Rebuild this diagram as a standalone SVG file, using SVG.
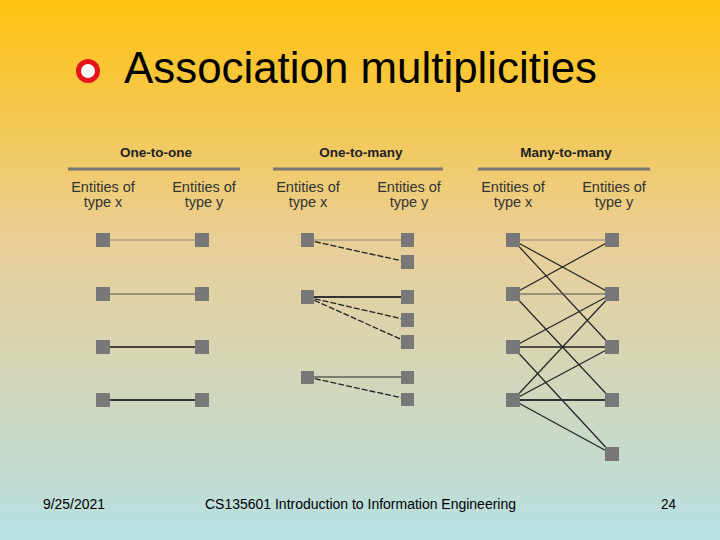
<svg xmlns="http://www.w3.org/2000/svg" width="720" height="540" viewBox="0 0 720 540">
<defs>
<linearGradient id="bg" x1="0" y1="0" x2="0" y2="1">
<stop offset="0" stop-color="#FFC20E"/>
<stop offset="0.45" stop-color="#E9CF98"/>
<stop offset="1" stop-color="#B8E0E2"/>
</linearGradient>
</defs>
<style>
.title{font-family:"Liberation Sans",Arial,sans-serif;font-size:44px;fill:#000}
.foot{font-family:"Liberation Sans",Arial,sans-serif;font-size:14px;fill:#000}
.head{font-family:"Liberation Sans",Arial,sans-serif;font-size:13.5px;font-weight:bold;fill:#222;text-anchor:middle}
.ent{font-family:"Liberation Sans",Arial,sans-serif;font-size:14.5px;fill:#333;text-anchor:middle}
.rule{stroke:#777;stroke-width:3}
.sq{fill:#787878}
.c{stroke:#222;stroke-width:1.2;fill:none}
.c0{stroke:#8a8a7a;stroke-width:1;fill:none}
.c2{stroke:#333;stroke-width:2;fill:none}
.d{stroke:#222;stroke-width:1.3;stroke-dasharray:6 2;fill:none}
</style>
<rect width="720" height="540" fill="url(#bg)"/>
<g id="title">
<circle cx="88" cy="71" r="9.5" fill="#fff" stroke="#E8141B" stroke-width="5"/>
<text class="title" x="124" y="83" textLength="473" lengthAdjust="spacingAndGlyphs">Association multiplicities</text>
</g>
<g id="headers">
<text class="head" x="156" y="157">One-to-one</text>
<line class="rule" x1="68" y1="169" x2="240" y2="169"/>
<text class="ent" x="103" y="192">Entities of</text>
<text class="ent" x="103" y="207">type x</text>
<text class="ent" x="204" y="192">Entities of</text>
<text class="ent" x="204" y="207">type y</text>
<text class="head" x="361" y="157">One-to-many</text>
<line class="rule" x1="273" y1="169" x2="443" y2="169"/>
<text class="ent" x="308" y="192">Entities of</text>
<text class="ent" x="308" y="207">type x</text>
<text class="ent" x="409" y="192">Entities of</text>
<text class="ent" x="409" y="207">type y</text>
<text class="head" x="566" y="157">Many-to-many</text>
<line class="rule" x1="478" y1="169" x2="650" y2="169"/>
<text class="ent" x="513" y="192">Entities of</text>
<text class="ent" x="513" y="207">type x</text>
<text class="ent" x="614" y="192">Entities of</text>
<text class="ent" x="614" y="207">type y</text>
</g>
<g id="connectors">
<line class="c0" x1="103" y1="240" x2="202" y2="240"/>
<line class="c" x1="103" y1="294" x2="202" y2="294" style="stroke:#555"/>
<line class="c" x1="103" y1="347" x2="202" y2="347" style="stroke:#111;stroke-width:1.6"/>
<line class="c2" x1="103" y1="400" x2="202" y2="400"/>
<line class="c0" x1="307" y1="240" x2="407" y2="240"/>
<line class="d" x1="307" y1="240" x2="407" y2="262"/>
<line class="c2" x1="307" y1="297" x2="407" y2="297"/>
<line class="d" x1="307" y1="297" x2="407" y2="320"/>
<line class="d" x1="307" y1="297" x2="407" y2="342"/>
<line class="c" x1="307" y1="377" x2="407" y2="377"/>
<line class="d" x1="307" y1="377" x2="407" y2="399"/>
<line class="c0" x1="513" y1="240" x2="612" y2="240"/>
<line class="c" x1="513" y1="240" x2="612" y2="294"/>
<line class="c" x1="513" y1="240" x2="612" y2="347"/>
<line class="c" x1="513" y1="294" x2="612" y2="240"/>
<line class="c" x1="513" y1="294" x2="612" y2="294" style="stroke:#555"/>
<line class="c" x1="513" y1="294" x2="612" y2="400"/>
<line class="c" x1="513" y1="347" x2="612" y2="294"/>
<line class="c" x1="513" y1="347" x2="612" y2="347" style="stroke-width:1.6"/>
<line class="c" x1="513" y1="347" x2="612" y2="454"/>
<line class="c" x1="513" y1="400" x2="612" y2="294"/>
<line class="c" x1="513" y1="400" x2="612" y2="347"/>
<line class="c2" x1="513" y1="400" x2="612" y2="400"/>
<line class="c" x1="513" y1="400" x2="612" y2="454"/>
</g>
<g id="one-to-one-x">
<rect class="sq" x="96" y="233" width="14" height="14"/>
<rect class="sq" x="96" y="287" width="14" height="14"/>
<rect class="sq" x="96" y="340" width="14" height="14"/>
<rect class="sq" x="96" y="393" width="14" height="14"/>
</g>
<g id="one-to-one-y">
<rect class="sq" x="195" y="233" width="14" height="14"/>
<rect class="sq" x="195" y="287" width="14" height="14"/>
<rect class="sq" x="195" y="340" width="14" height="14"/>
<rect class="sq" x="195" y="393" width="14" height="14"/>
</g>
<g id="one-to-many-x">
<rect class="sq" x="301" y="233" width="13" height="14"/>
<rect class="sq" x="301" y="290" width="13" height="14"/>
<rect class="sq" x="301" y="371" width="13" height="13"/>
</g>
<g id="one-to-many-y">
<rect class="sq" x="401" y="233" width="13" height="14"/>
<rect class="sq" x="401" y="255" width="13" height="14"/>
<rect class="sq" x="401" y="290" width="13" height="14"/>
<rect class="sq" x="401" y="313" width="13" height="14"/>
<rect class="sq" x="401" y="335" width="13" height="14"/>
<rect class="sq" x="401" y="371" width="13" height="13"/>
<rect class="sq" x="401" y="393" width="13" height="13"/>
</g>
<g id="many-to-many-x">
<rect class="sq" x="506" y="233" width="14" height="14"/>
<rect class="sq" x="506" y="287" width="14" height="14"/>
<rect class="sq" x="506" y="340" width="14" height="14"/>
<rect class="sq" x="506" y="393" width="14" height="14"/>
</g>
<g id="many-to-many-y">
<rect class="sq" x="605" y="233" width="14" height="14"/>
<rect class="sq" x="605" y="287" width="14" height="14"/>
<rect class="sq" x="605" y="340" width="14" height="14"/>
<rect class="sq" x="605" y="393" width="14" height="14"/>
<rect class="sq" x="605" y="447" width="14" height="14"/>
</g>
<g id="footer">
<text class="foot" x="43" y="509" textLength="62" lengthAdjust="spacingAndGlyphs">9/25/2021</text>
<text class="foot" x="205" y="509" textLength="311" lengthAdjust="spacingAndGlyphs">CS135601 Introduction to Information Engineering</text>
<text class="foot" x="661" y="509" textLength="15" lengthAdjust="spacingAndGlyphs">24</text>
</g>
</svg>
